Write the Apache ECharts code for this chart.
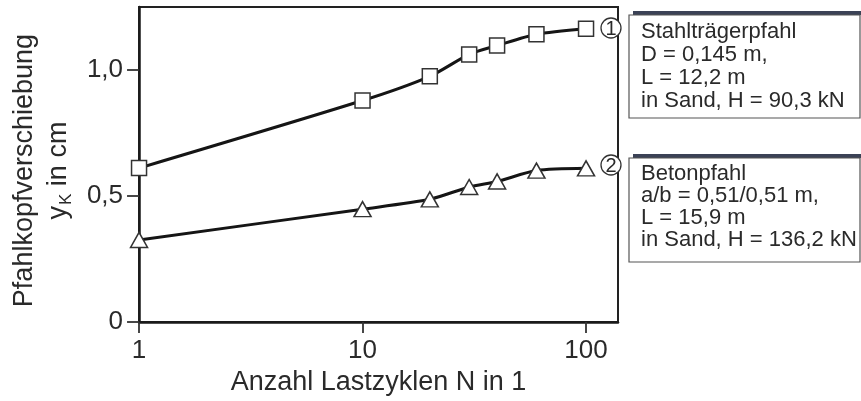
<!DOCTYPE html>
<html>
<head>
<meta charset="utf-8">
<script src="https://cdn.jsdelivr.net/npm/echarts@6/dist/echarts.min.js"></script>
<style>
html,body{margin:0;padding:0;background:#fff;}
#chart{width:861px;height:401px;}
</style>
</head>
<body>
<div id="chart"></div>
<script>
// Data
const cycles = [1, 10, 20, 30, 40, 60, 100];
const stahlValues = [0.611, 0.879, 0.975, 1.062, 1.097, 1.142, 1.164];
const betonValues = [0.326, 0.448, 0.487, 0.536, 0.558, 0.601, 0.610];
const xTickValues = [1, 10, 100];
const yTickValues = [0, 0.5, 1.0];
const box1Lines = ['Stahlträgerpfahl', 'D = 0,145 m,', 'L = 12,2 m', 'in Sand, H = 90,3 kN'];
const box2Lines = ['Betonpfahl', 'a/b = 0,51/0,51 m,', 'L = 15,9 m', 'in Sand, H = 136,2 kN'];

const FONT = "'Liberation Sans', Arial, sans-serif";
const TXT = '#2a2a2a';

const chart = echarts.init(document.getElementById('chart'), null, {renderer: 'canvas'});

function pairs(xs, ys) { return xs.map((x, i) => [x, ys[i]]); }

function infoBox(x, y, w, h, lines, lh) {
  return {
    type: 'group',
    children: [
      {type: 'rect', shape: {x: x + 4, y: y - 4, width: w, height: 4}, style: {fill: '#3b4256'}},
      {type: 'rect', shape: {x: x, y: y, width: w, height: h}, style: {fill: '#fff', stroke: '#555', lineWidth: 1.2}},
      {type: 'text', x: x + 12, y: y + 5, style: {text: lines.join('\n'), font: '22px ' + FONT, fill: TXT, lineHeight: lh, textVerticalAlign: 'top'}}
    ]
  };
}
function circleLabel(cx, cy, t) {
  return {
    type: 'group',
    children: [
      {type: 'circle', shape: {cx: cx, cy: cy, r: 10}, style: {fill: '#fff', stroke: '#333', lineWidth: 1.3}},
      {type: 'text', x: cx, y: cy + 1, style: {text: t, font: '20px ' + FONT, fill: TXT, textAlign: 'center', textVerticalAlign: 'middle'}}
    ]
  };
}

const option = {
  animation: false,
  backgroundColor: '#fff',
  grid: {left: 134, top: 7, width: 484, height: 321, show: true, borderColor: '#222', borderWidth: 2, backgroundColor: 'transparent'},
  xAxis: {
    type: 'log', logBase: 10, min: 1, max: 139,
    name: 'Anzahl Lastzyklen N in 1', nameLocation: 'middle', nameGap: 45,
    nameTextStyle: {fontFamily: FONT, fontSize: 27, color: TXT},
    axisLine: {lineStyle: {color: '#1a1a1a', width: 2.5}},
    axisTick: {show: true, length: 11, lineStyle: {color: '#333', width: 1.8}, customValues: xTickValues},
    axisLabel: {fontFamily: FONT, fontSize: 26, color: TXT, margin: 16, customValues: xTickValues, formatter: v => String(Math.round(v))},
    splitLine: {show: false}, minorTick: {show: false}
  },
  yAxis: {
    type: 'value', min: 0, max: 1.25, interval: 0.5,
    name: 'Pfahlkopfverschiebung\n{n|y}{s|K}{n| in cm}', nameLocation: 'middle', nameGap: 53, nameRotate: 90,
    nameTextStyle: {fontFamily: FONT, fontSize: 27, color: TXT, lineHeight: 34, padding: [0, 12, 0, 0],
      rich: {n: {fontFamily: FONT, fontSize: 27, color: TXT, lineHeight: 34},
             s: {fontFamily: FONT, fontSize: 17, color: TXT, lineHeight: 34, padding: [14, 0, 0, 1]}}},
    axisLine: {lineStyle: {color: '#1a1a1a', width: 2.5}},
    axisTick: {show: true, length: 12, lineStyle: {color: '#333', width: 1.8}, customValues: yTickValues},
    axisLabel: {fontFamily: FONT, fontSize: 26, color: TXT, margin: 16, customValues: yTickValues,
      formatter: v => v === 0 ? '0' : v.toFixed(1).replace('.', ',')},
    splitLine: {show: false}
  },
  series: [
    {
      type: 'line', name: 'Stahlträgerpfahl', data: pairs(cycles, stahlValues), smooth: 0.25,
      symbol: 'rect', symbolSize: 15, showAllSymbol: true,
      lineStyle: {color: '#151515', width: 3},
      itemStyle: {color: '#fff', borderColor: '#333', borderWidth: 1.5},
      z: 3
    },
    {
      type: 'line', name: 'Betonpfahl', data: pairs(cycles, betonValues), smooth: 0.25,
      symbol: 'triangle', symbolSize: [17, 15], showAllSymbol: true,
      lineStyle: {color: '#151515', width: 3},
      itemStyle: {color: '#fff', borderColor: '#333', borderWidth: 1.5},
      z: 3
    }
  ],
  graphic: [
    infoBox(629, 15, 231, 103, box1Lines, 23),
    infoBox(629, 158, 231, 104, box2Lines, 22),
    circleLabel(611, 28, '1'),
    circleLabel(611, 165, '2')
  ]
};
chart.setOption(option);
</script>
</body>
</html>
